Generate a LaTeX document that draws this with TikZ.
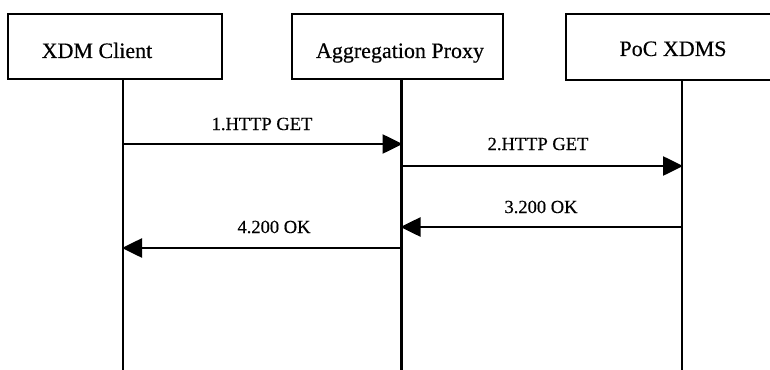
\documentclass[tikz,border=0pt]{standalone}
\usepackage{fontspec}
\setmainfont{Liberation Serif}[FakeBold=0.4]
\usetikzlibrary{arrows.meta}
\tikzset{
  actor/.style={draw=black, line width=2.6pt, inner sep=0pt, fill=white},
  boxtext/.style={font=\fontsize{22}{25}\selectfont, anchor=base, inner sep=0pt},
  msgtext/.style={font=\fontsize{18.5}{22}\selectfont, anchor=base, inner sep=0pt},
  lifeline/.style={draw=black, line width=2.6pt},
  msg/.style={draw=black, line width=2.6pt, -{Triangle[length=20pt,width=19pt]}, shorten >=-1pt}
}
\begin{document}
\begin{tikzpicture}[x=1pt,y=-1pt]
\useasboundingbox (0,0) rectangle (770,369);
\clip (0,0) rectangle (770,369);
% actor boxes
\node[actor, minimum width=214pt, minimum height=65pt] (xdm) at (115,46.5) {};
\node[actor, minimum width=211pt, minimum height=65pt] (agp) at (397.5,46.5) {};
\node[actor, minimum width=220pt, minimum height=66pt] (poc) at (676,47) {};
% box texts
\node[boxtext] (xdmt) at (97,58) {XDM Client};
\node[boxtext] (agpt) at (400,58) {Aggregation Proxy};
\node[boxtext] (poct) at (673,56) {PoC XDMS};
% lifeline ends
\coordinate (l1) at (123,372);
\coordinate (l2) at (401.5,372);
\coordinate (l3) at (682,372);
\draw[lifeline] (xdm.south -| l1) -- (l1);
\draw[lifeline] (agp.south -| l2) -- (l2);
\draw[lifeline] (poc.south -| l3) -- (l3);
% message end points
\coordinate (m1s) at (123,144);
\coordinate (m1e) at (401.5,144);
\coordinate (m2s) at (401.5,166);
\coordinate (m2e) at (682,166);
\coordinate (m3s) at (682,227);
\coordinate (m3e) at (401.5,227);
\coordinate (m4s) at (401.5,248);
\coordinate (m4e) at (123,248);
\draw[msg] (m1s) -- (m1e);
\draw[msg] (m2s) -- (m2e);
\draw[msg] (m3s) -- (m3e);
\draw[msg] (m4s) -- (m4e);
% message labels
\node[msgtext] (t1) at (262,130) {1.HTTP GET};
\node[msgtext] (t2) at (538,150) {2.HTTP GET};
\node[msgtext] (t3) at (541,213) {3.200 OK};
\node[msgtext] (t4) at (274,233) {4.200 OK};
\end{tikzpicture}
\end{document}
